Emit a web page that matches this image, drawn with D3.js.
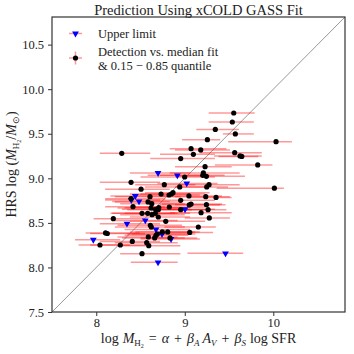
<!DOCTYPE html>
<html>
<head>
<meta charset="utf-8">
<script src="https://cdn.jsdelivr.net/npm/d3@7"></script>
<style>
  body { margin: 0; background: #fff; }
  text { font-family: "Liberation Serif", serif; fill: #222; }
</style>
</head>
<body>
<svg id="chart" width="354" height="354"></svg>
<script>
// detections: median fit (x), HRS value (y), 0.15 / 0.85 quantiles (lo, hi)
const detX = [9.553, 9.537, 9.345, 9.571, 9.255, 10.031, 9.071, 9.180, 9.097, 8.288,
  9.564, 9.624, 9.644, 8.954, 9.824, 9.229, 9.210, 9.203, 9.244, 8.999,
  8.393, 8.769, 8.943, 8.506, 9.274, 9.248, 10.012, 8.607, 8.732, 8.822,
  8.848, 8.867, 8.954, 9.047, 9.051, 9.071, 9.245, 9.263, 9.184, 9.353,
  9.237, 8.393, 8.415, 8.585, 8.627, 8.619, 8.706, 8.701, 8.670, 8.517,
  8.581, 8.630, 8.667, 8.701, 8.825, 8.954, 8.785, 8.611, 8.622, 8.807,
  8.746, 8.690, 8.675, 8.660, 8.588, 8.833, 9.056, 9.153, 9.277, 8.407,
  8.570, 8.593, 8.517, 8.193, 8.105, 8.125, 8.042, 8.272]
const detY = [9.733, 9.632, 9.549, 9.498, 9.434, 9.411, 9.333, 9.318, 9.269, 9.280,
  9.288, 9.251, 9.246, 9.221, 9.150, 9.131, 9.060, 9.033, 9.022, 9.015,
  8.955, 8.929, 8.903, 8.878, 8.929, 8.903, 8.889, 8.794, 8.824, 8.813,
  8.824, 8.839, 8.753, 8.802, 8.701, 8.712, 8.704, 8.648, 8.614, 8.786,
  8.794, 8.772, 8.682, 8.735, 8.716, 8.667, 8.671, 8.648, 8.653, 8.607,
  8.607, 8.592, 8.607, 8.566, 8.678, 8.648, 8.517, 8.472, 8.454, 8.398,
  8.398, 8.375, 8.360, 8.331, 8.342, 8.331, 8.393, 8.454, 8.555, 8.292,
  8.278, 8.244, 8.154, 8.547, 8.387, 8.381, 8.252, 8.252]
const detLo = [9.27, 9.27, 9.13, 9.43, 8.97, 9.49, 8.83, 8.89, 8.72, 8.04,
  9.17, 9.33, 9.38, 8.61, 9.34, 8.89, 8.83, 8.72, 8.89, 8.50,
  8.04, 8.44, 8.55, 8.10, 8.95, 8.89, 9.36, 8.21, 8.38, 8.44,
  8.50, 8.55, 8.61, 8.72, 8.72, 8.74, 8.89, 8.92, 8.83, 9.06,
  8.89, 8.10, 8.10, 8.21, 8.27, 8.24, 8.32, 8.35, 8.29, 8.16,
  8.18, 8.27, 8.32, 8.38, 8.44, 8.61, 8.38, 8.24, 8.21, 8.44,
  8.38, 8.35, 8.32, 8.29, 8.24, 8.50, 8.72, 8.77, 9.00, 8.04,
  8.21, 8.24, 8.27, 7.97, 7.88, 7.93, 7.80, 7.93]
const detHi = [9.79, 9.78, 9.61, 9.78, 9.40, 10.21, 9.47, 9.51, 9.34, 8.61,
  9.87, 9.87, 9.83, 9.34, 9.99, 9.53, 9.62, 9.45, 9.68, 9.34,
  8.72, 9.12, 9.23, 8.83, 9.62, 9.49, 10.12, 8.95, 9.06, 9.17,
  9.23, 9.28, 9.34, 9.42, 9.40, 9.42, 9.46, 9.47, 9.53, 9.53,
  9.51, 8.78, 8.78, 8.95, 9.00, 8.97, 9.06, 9.08, 9.04, 8.89,
  8.92, 9.00, 9.06, 9.06, 9.23, 9.29, 9.23, 8.97, 9.00, 9.17,
  9.12, 9.06, 9.04, 9.00, 8.92, 9.14, 9.32, 9.35, 9.51, 8.72,
  8.92, 8.95, 8.95, 8.55, 8.49, 8.55, 8.38, 8.61]

// upper limits
const ulX = [8.698, 8.916, 9.022, 8.441, 8.396, 8.483, 9.003, 8.554, 8.347, 8.675,
  8.743, 8.845, 7.967, 8.698, 9.460]
const ulY = [9.060, 9.033, 8.943, 8.802, 8.757, 8.741, 8.652, 8.528, 8.491, 8.427,
  8.375, 8.319, 8.311, 8.057, 8.158]
const ulLo = [8.38, 8.58, 8.69, 8.16, 8.10, 8.18, 8.66, 8.21, 8.04, 8.32,
  8.40, 8.50, 7.76, 8.39, 9.03]
const ulHi = [9.06, 9.28, 9.37, 8.78, 8.72, 8.83, 9.34, 8.92, 8.72, 9.06,
  9.12, 9.17, 8.27, 8.92, 9.66]

const xTicks = [8, 9, 10]
const yTicks = [7.5, 8.0, 8.5, 9.0, 9.5, 10.0, 10.5]
const lim = [7.5, 10.81]

const svg = d3.select('#chart')
const margin = { top: 17, right: 9, bottom: 42, left: 52 }
const width = +svg.attr('width') - margin.left - margin.right
const height = +svg.attr('height') - margin.top - margin.bottom

const x = d3.scaleLinear().domain(lim).range([0, width])
const y = d3.scaleLinear().domain(lim).range([height, 0])

const g = svg.append('g').attr('transform', `translate(${margin.left},${margin.top})`)

const dets = detX.map((d, i) => ({ x: d, y: detY[i], lo: detLo[i], hi: detHi[i] }))
const uls = ulX.map((d, i) => ({ x: d, y: ulY[i], lo: ulLo[i], hi: ulHi[i] }))

// one-to-one line
g.append('line')
  .attr('x1', x(lim[0])).attr('y1', y(lim[0]))
  .attr('x2', x(lim[1])).attr('y2', y(lim[1]))
  .attr('stroke', '#999').attr('stroke-width', 1)

// error bars
g.selectAll('.bar')
  .data(uls.concat(dets))
  .enter()
  .append('line')
  .attr('class', 'bar')
  .attr('x1', d => x(d.lo)).attr('x2', d => x(d.hi))
  .attr('y1', d => y(d.y)).attr('y2', d => y(d.y))
  .attr('stroke', 'red').attr('stroke-opacity', 0.4).attr('stroke-width', 1.5)

const tri = d3.symbol().type(d3.symbolTriangle).size(20)

g.selectAll('.ul')
  .data(uls)
  .enter()
  .append('path')
  .attr('class', 'ul')
  .attr('d', tri)
  .attr('transform', d => `translate(${x(d.x)},${y(d.y)}) rotate(180)`)
  .attr('fill', 'blue')

g.selectAll('.det')
  .data(dets)
  .enter()
  .append('circle')
  .attr('class', 'det')
  .attr('cx', d => x(d.x)).attr('cy', d => y(d.y))
  .attr('r', 2.6)
  .attr('fill', 'black')

// axes
const xAxis = g.append('g')
  .attr('transform', `translate(0,${height})`)
  .call(d3.axisBottom(x).tickValues(xTicks).tickFormat(d3.format('d')).tickSize(4).tickPadding(2))
const yAxis = g.append('g')
  .call(d3.axisLeft(y).tickValues(yTicks).tickFormat(d3.format('.1f')).tickSize(4).tickPadding(4))

;[xAxis, yAxis].forEach(a => {
  a.select('.domain').remove()
  a.selectAll('line').attr('stroke', '#333')
  a.selectAll('text').style('font-family', '"Liberation Serif", serif').style('font-size', '12.5px').attr('fill', '#333')
})

g.append('rect')
  .attr('width', width).attr('height', height)
  .attr('fill', 'none').attr('stroke', '#333').attr('stroke-width', 1.2)

// title
svg.append('text')
  .attr('x', margin.left + width / 2).attr('y', 15)
  .attr('text-anchor', 'middle')
  .style('font-size', '14.5px')
  .text('Prediction Using xCOLD GASS Fit')

// x label
const xl = svg.append('text')
  .attr('x', margin.left + width / 2).attr('y', 343)
  .attr('text-anchor', 'middle')
  .style('font-size', '14px')
xl.append('tspan').text('log')
xl.append('tspan').attr('dx', 4).attr('font-style', 'italic').text('M')
xl.append('tspan').attr('dy', 3).style('font-size', '9px').text('H')
xl.append('tspan').attr('dy', 1.5).style('font-size', '6px').text('2')
xl.append('tspan').attr('dy', -4.5).attr('dx', 5).text('=')
xl.append('tspan').attr('dx', 5).attr('font-style', 'italic').text('α')
xl.append('tspan').attr('dx', 5).text('+')
xl.append('tspan').attr('dx', 5).attr('font-style', 'italic').text('β')
xl.append('tspan').attr('dy', 3).attr('font-style', 'italic').style('font-size', '9px').text('A')
xl.append('tspan').attr('dy', -3).attr('dx', 3).attr('font-style', 'italic').text('A')
xl.append('tspan').attr('dy', 3).attr('font-style', 'italic').style('font-size', '9px').text('V')
xl.append('tspan').attr('dy', -3).attr('dx', 5).text('+')
xl.append('tspan').attr('dx', 5).attr('font-style', 'italic').text('β')
xl.append('tspan').attr('dy', 3).attr('font-style', 'italic').style('font-size', '9px').text('S')
xl.append('tspan').attr('dy', -3).attr('dx', 4).text('log SFR')

// y label
const yl = svg.append('text')
  .attr('transform', `translate(16,${margin.top + height / 2}) rotate(-90)`)
  .attr('text-anchor', 'middle')
  .style('font-size', '14px')
yl.append('tspan').text('HRS log (')
yl.append('tspan').attr('font-style', 'italic').text('M')
yl.append('tspan').attr('dy', 3).style('font-size', '9px').text('H')
yl.append('tspan').attr('dy', 1.5).style('font-size', '6px').text('2')
yl.append('tspan').attr('dy', -4.5).text('/')
yl.append('tspan').attr('font-style', 'italic').text('M')
yl.append('tspan').attr('dy', 3).style('font-size', '9px').text('⊙')
yl.append('tspan').attr('dy', -3).text(')')

// legend
const leg = svg.append('g')
leg.append('line').attr('x1', 69).attr('x2', 82).attr('y1', 33.5).attr('y2', 33.5)
  .attr('stroke', 'red').attr('stroke-opacity', 0.4).attr('stroke-width', 1.5)
leg.append('path').attr('d', tri).attr('transform', 'translate(75.5,33.5) rotate(180)').attr('fill', 'blue')
leg.append('text').attr('x', 98).attr('y', 38).style('font-size', '12.5px').text('Upper limit')

leg.append('line').attr('x1', 69).attr('x2', 82).attr('y1', 58).attr('y2', 58)
  .attr('stroke', 'red').attr('stroke-opacity', 0.4).attr('stroke-width', 1.5)
leg.append('line').attr('x1', 75.5).attr('x2', 75.5).attr('y1', 51.5).attr('y2', 64.5)
  .attr('stroke', 'red').attr('stroke-opacity', 0.4).attr('stroke-width', 1.5)
leg.append('circle').attr('cx', 75.5).attr('cy', 58).attr('r', 2.6).attr('fill', 'black')
leg.append('text').attr('x', 98).attr('y', 56).style('font-size', '12.5px').text('Detection vs. median fit')
leg.append('text').attr('x', 98).attr('y', 70).style('font-size', '12.5px').text('& 0.15 − 0.85 quantile')
</script>
</body>
</html>
